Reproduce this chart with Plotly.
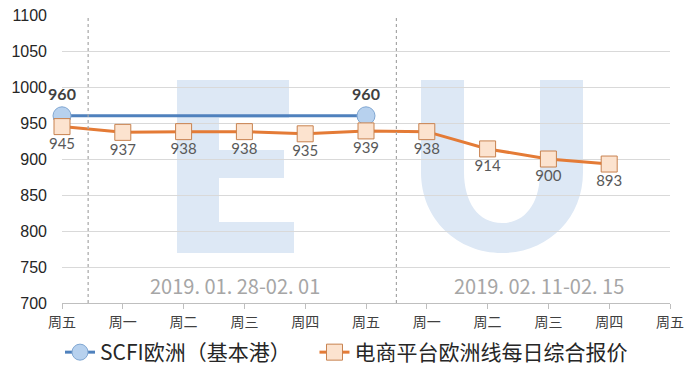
import plotly.graph_objects as go

# ---- data ----
tick_labels = ["周五", "周一", "周二", "周三", "周四", "周五", "周一", "周二", "周三", "周四", "周五"]
x_pos = list(range(len(tick_labels)))
scfi_x = [0, 5]
scfi_vals = [960, 960]
ecom_vals = [945, 937, 938, 938, 935, 939, 938, 914, 900, 893]
ecom_x = x_pos[:len(ecom_vals)]
series_names = ["SCFI欧洲（基本港）", "电商平台欧洲线每日综合报价"]
week_labels = ["2019. 01. 28-02. 01", "2019. 02. 11-02. 15"]
week_label_x = [2.85, 7.85]
week_label_y = 724
week_dividers = [0.43, 5.5]

# ---- layout constants (pixels) ----
W, H = 700, 375
ML, MR, MT, MB = 62, 30, 15, 72
PW, PH = W - ML - MR, H - MT - MB


def px(x):
    return (x - ML) / PW


def py(y):
    return (H - MB - y) / PH


CJK = "Noto Sans CJK SC, Noto Sans, sans-serif"
WM = "rgb(221,232,245)"

fig = go.Figure()

fig.add_trace(go.Scatter(
    x=scfi_x, y=scfi_vals, name=series_names[0] + "\u00a0" * 4,
    mode="lines+markers+text",
    line=dict(color="#4F81BD", width=3),
    marker=dict(symbol="circle", size=18, color="#B7D1EE", line=dict(color="#7FA6D2", width=1)),
    text=[str(v) for v in scfi_vals], textposition="top center",
    textfont=dict(family="Lato, sans-serif", size=16, color="#404040", weight="bold"),
    cliponaxis=False,
))

fig.add_trace(go.Scatter(
    x=ecom_x, y=ecom_vals, name=series_names[1],
    mode="lines+markers+text",
    line=dict(color="#E47B36", width=3),
    marker=dict(symbol="square", size=16, color="#FCE3CF", line=dict(color="#C8824F", width=1)),
    text=[str(v) for v in ecom_vals], textposition="bottom center",
    textfont=dict(family="Lato, sans-serif", size=15, color="#595959"),
    cliponaxis=False,
))

shapes = []
# watermark "E"
for (x0, y0, x1, y1) in [(177, 80, 219, 253), (177, 80, 289, 118), (177, 150, 284, 178), (177, 222, 294, 253)]:
    shapes.append(dict(type="rect", xref="paper", yref="paper", x0=px(x0), x1=px(x1), y0=py(y1), y1=py(y0),
                       fillcolor=WM, line=dict(width=0), layer="below"))
# watermark "U"
pts = [("M", 421, 80), ("L", 421, 172), ("C", 421, 220, 458, 253, 502, 253), ("C", 546, 253, 583, 220, 583, 172),
       ("L", 583, 80), ("L", 540, 80), ("L", 540, 172), ("C", 540, 202, 526, 223, 502, 223),
       ("C", 478, 223, 464, 202, 464, 172), ("L", 464, 80)]
path = ""
for p in pts:
    cmd = p[0]
    coords = p[1:]
    s = " ".join(f"{px(coords[i]):.5f},{py(coords[i+1]):.5f}" for i in range(0, len(coords), 2))
    path += f"{cmd} {s} "
path += "Z"
shapes.append(dict(type="path", xref="paper", yref="paper", path=path, fillcolor=WM, line=dict(width=0), layer="below"))

for xv in week_dividers:
    shapes.append(dict(type="line", xref="x", yref="paper", x0=xv, x1=xv, y0=0, y1=1,
                       line=dict(color="#A6A6A6", width=1.2, dash="dot")))

annotations = []
for t, xv in zip(week_labels, week_label_x):
    annotations.append(dict(x=xv, y=week_label_y, xref="x", yref="y", text=t, showarrow=False,
                            font=dict(family=CJK, size=20, color="#A6A6A6")))

fig.update_layout(
    width=W, height=H,
    margin=dict(l=ML, r=MR, t=MT, b=MB, autoexpand=False),
    plot_bgcolor="white", paper_bgcolor="white",
    shapes=shapes, annotations=annotations,
    showlegend=True,
    legend=dict(orientation="h", x=60 / W, xanchor="left", xref="container",
                y=2 / H, yanchor="bottom", yref="container",
                font=dict(family=CJK, size=21, color="#262626"),
                bgcolor="rgba(0,0,0,0)"),
    xaxis=dict(range=[0, 10], tickmode="array", tickvals=x_pos, ticktext=tick_labels,
               showgrid=False, zeroline=False, showline=True, linecolor="#BFBFBF", linewidth=1,
               ticks="outside", ticklen=5, tickcolor="#BFBFBF", ticklabelstandoff=1,
               tickfont=dict(family=CJK, size=14, color="#404040")),
    yaxis=dict(range=[700, 1100], dtick=50, showgrid=True, gridcolor="#D9D9D9", gridwidth=1,
               zeroline=False, showline=False, ticklabelstandoff=14,
               tickfont=dict(family="Liberation Sans, Arial, sans-serif", size=16, color="#262626")),
)

fig.write_html("out.html")
